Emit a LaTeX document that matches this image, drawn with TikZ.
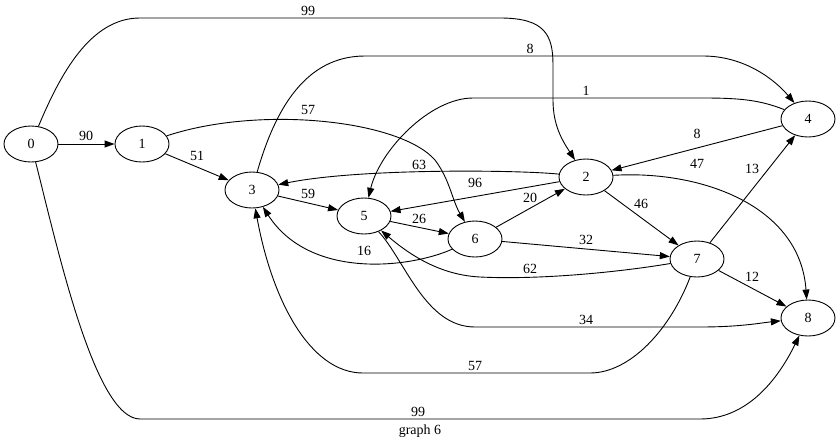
\documentclass[tikz,border=0pt]{standalone}
\usepackage{fontspec}
\setmainfont{Liberation Serif}
\usetikzlibrary{arrows.meta,shapes.geometric}
\begin{document}
\begin{tikzpicture}[x=1pt,y=-1pt,
  vertex/.style={draw,ellipse,line width=0.9pt,minimum width=54pt,minimum height=36pt,inner sep=0pt,font=\fontsize{14}{16}\selectfont},
  edge/.style={draw,line width=0.9pt,-{Triangle[length=10pt,width=7pt]}},
  wlabel/.style={inner sep=0pt,font=\fontsize{14}{16}\selectfont}]
\useasboundingbox (0,0) rectangle (839,445);

% vertices
\node[vertex] (n0) at (31,144) {0};
\node[vertex] (n1) at (142,144) {1};
\node[vertex] (n2) at (586,177) {2};
\node[vertex] (n3) at (252,190) {3};
\node[vertex] (n4) at (808,119) {4};
\node[vertex] (n5) at (364,216) {5};
\node[vertex] (n6) at (475,239) {6};
\node[vertex] (n7) at (697,259) {7};
\node[vertex] (n8) at (808,318) {8};

% straight edges
\path[edge] (n0) -- (n1);
\path[edge] (n1) -- (n3);
\path[edge] (n3) -- (n5);
\path[edge] (n5) -- (n6);
\path[edge] (n6) -- (n2);
\path[edge] (n6) -- (n7);
\path[edge] (n2) -- (n5);
\path[edge] (n2) -- (n7);
\path[edge] (n4) -- (n2);
\path[edge] (n7) -- (n4);
\path[edge] (n7) -- (n8);

% curved edges
\path[edge] (n0) .. controls (60,75) and (90,18) .. (140,18) -- (500,18)
  .. controls (545,18) and (553,35) .. (553,65) -- (553,100)
  .. controls (553,125) and (562,140) .. (n2);
\path[edge] (n0) .. controls (58,250) and (95,419) .. (140,419) -- (700,419)
  .. controls (750,419) and (780,375) .. (n8);
\path[edge] (n3) .. controls (275,110) and (305,56) .. (365,56) -- (703,56)
  .. controls (745,56) and (775,80) .. (n4);
\path[edge] (n4) .. controls (760,100) and (740,98) .. (703,98) -- (473,98)
  .. controls (430,98) and (380,150) .. (n5);
\path[edge] (n1) .. controls (260,105) and (400,120) .. (435,160)
  .. controls (450,180) and (452,200) .. (n6);
\path[edge] (n2) .. controls (520,170) and (360,168) .. (n3);
\path[edge] (n2) .. controls (700,170) and (800,205) .. (n8);
\path[edge] (n6) .. controls (410,268) and (310,280) .. (n3);
\path[edge] (n7) .. controls (620,272) and (540,280) .. (480,277)
  .. controls (440,275) and (410,255) .. (n5);
\path[edge] (n5) .. controls (405,260) and (425,327) .. (475,327) -- (700,327)
  .. controls (740,327) and (760,323) .. (n8);
\path[edge] (n7) .. controls (670,330) and (630,373) .. (590,373) -- (363,373)
  .. controls (310,373) and (272,300) .. (n3);

% weights
\node[wlabel] (w02) at (308,11) {99};
\node[wlabel] (w34) at (530,49) {8};
\node[wlabel] (w45) at (586,91) {1};
\node[wlabel] (w16) at (308,110) {57};
\node[wlabel] (w01) at (86,136) {90};
\node[wlabel] (w42) at (697,134) {8};
\node[wlabel] (w13) at (197,156) {51};
\node[wlabel] (w23) at (419,165) {63};
\node[wlabel] (w28) at (697,164) {47};
\node[wlabel] (w74) at (752,169) {13};
\node[wlabel] (w25) at (475,183) {96};
\node[wlabel] (w35) at (308,194) {59};
\node[wlabel] (w62) at (530,198) {20};
\node[wlabel] (w27) at (641,204) {46};
\node[wlabel] (w56) at (419,219) {26};
\node[wlabel] (w67) at (586,240) {32};
\node[wlabel] (w63) at (364,251) {16};
\node[wlabel] (w75) at (530,269) {62};
\node[wlabel] (w78) at (752,277) {12};
\node[wlabel] (w58) at (586,320) {34};
\node[wlabel] (w73) at (475,366) {57};
\node[wlabel] (w08) at (418,412) {99};
\node[wlabel] (title) at (420,431) {graph 6};
\end{tikzpicture}
\end{document}
